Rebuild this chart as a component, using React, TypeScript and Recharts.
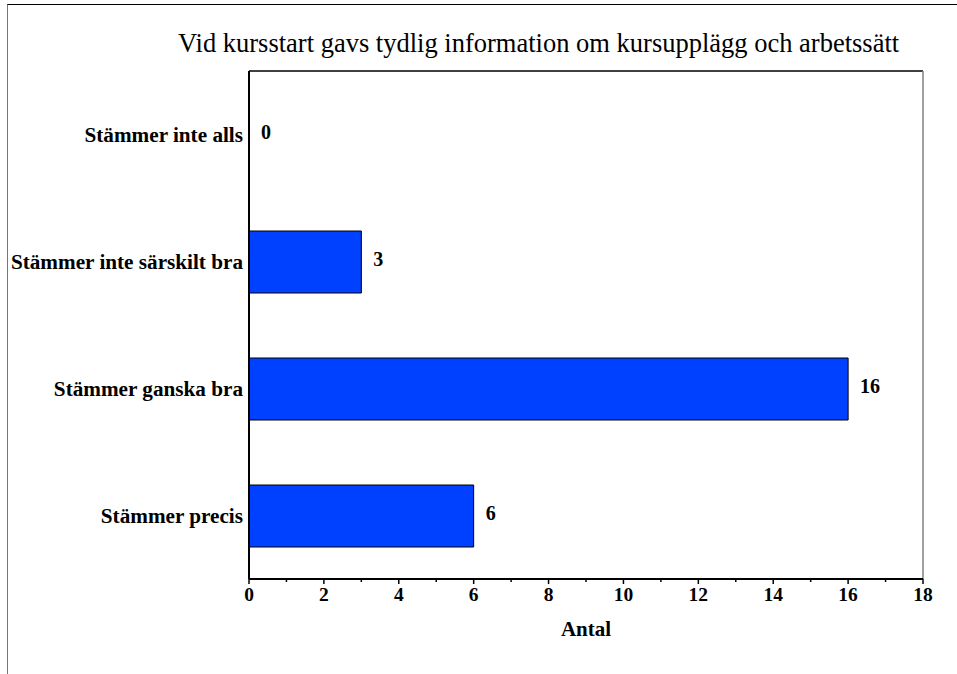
import { BarChart, Bar, XAxis, YAxis, LabelList, CartesianGrid } from "recharts";

const categories = [
  "Stämmer inte alls",
  "Stämmer inte särskilt bra",
  "Stämmer ganska bra",
  "Stämmer precis",
];
const antal = [0, 3, 16, 6];
const xTicks = [0, 1, 2, 3, 4, 5, 6, 7, 8, 9, 10, 11, 12, 13, 14, 15, 16, 17, 18];

const data = categories.map((name, i) => ({ name, antal: antal[i] }));

const FONT = '"Liberation Serif", "Times New Roman", serif';

const XTick = (props: any) => {
  const { x, y, payload } = props;
  const major = payload.value % 2 === 0;
  return (
    <g>
      <line x1={x} x2={x} y1={y} y2={y + (major ? 5 : 3)} stroke="#000" strokeWidth={1.5} />
      {major && (
        <text
          x={x}
          y={y + 22}
          textAnchor="middle"
          fontFamily={FONT}
          fontWeight="bold"
          fontSize={19.5}
          fill="#000"
        >
          {payload.value}
        </text>
      )}
    </g>
  );
};

export default function App() {
  return (
    <div style={{ position: "absolute", left: 0, top: 0, width: 957, height: 674, overflow: "hidden", background: "#fff" }}>
      <div
        style={{
          position: "absolute",
          left: 7,
          top: 4,
          width: 980,
          height: 700,
          borderLeft: "1px solid #777",
          borderTop: "1px solid #000",
        }}
      />
      <div
        style={{
          position: "absolute",
          left: 178,
          top: 30,
          fontFamily: FONT,
          fontSize: 26.5,
          lineHeight: "26.5px",
          whiteSpace: "nowrap",
          color: "#000",
        }}
      >
        Vid kursstart gavs tydlig information om kursupplägg och arbetssätt
      </div>
      <div style={{ position: "absolute", left: 0, top: 0 }}>
        <BarChart
          width={957}
          height={674}
          data={data}
          layout="vertical"
          margin={{ top: 71, right: 34, bottom: 35, left: 9 }}
        >
          {/* top border of the plot area */}
          <CartesianGrid
            vertical={false}
            stroke="#000"
            strokeWidth={1.5}
            horizontalCoordinatesGenerator={({ offset }: any) => [offset.top]}
          />
          {/* right border of the plot area */}
          <CartesianGrid
            horizontal={false}
            stroke="#808080"
            strokeWidth={1.5}
            verticalCoordinatesGenerator={({ offset }: any) => [offset.left + offset.width]}
          />
          <XAxis
            type="number"
            dataKey="antal"
            domain={[0, 18]}
            ticks={xTicks}
            interval={0}
            tickSize={0}
            tickMargin={0}
            tickLine={false}
            tick={<XTick />}
            height={60}
            axisLine={{ stroke: "#000", strokeWidth: 2 }}
            label={{
              value: "Antal",
              position: "insideBottom",
              offset: 3,
              fill: "#000",
              fontFamily: FONT,
              fontWeight: "bold",
              fontSize: 21,
            }}
          />
          <YAxis
            type="category"
            dataKey="name"
            width={240}
            tickSize={0}
            tickMargin={6}
            tickLine={false}
            axisLine={{ stroke: "#000", strokeWidth: 2 }}
            tick={{ fill: "#000", fontFamily: FONT, fontWeight: "bold", fontSize: 21.2 }}
          />
          <Bar
            dataKey="antal"
            fill="#0040ff"
            stroke="#000"
            strokeWidth={1}
            barSize={62}
            minPointSize={0.01}
            isAnimationActive={false}
          >
            <LabelList
              dataKey="antal"
              position="right"
              offset={12}
              dy={-3}
              fill="#000"
              fontFamily={FONT}
              fontWeight="bold"
              fontSize={20}
            />
          </Bar>
        </BarChart>
      </div>
    </div>
  );
}
